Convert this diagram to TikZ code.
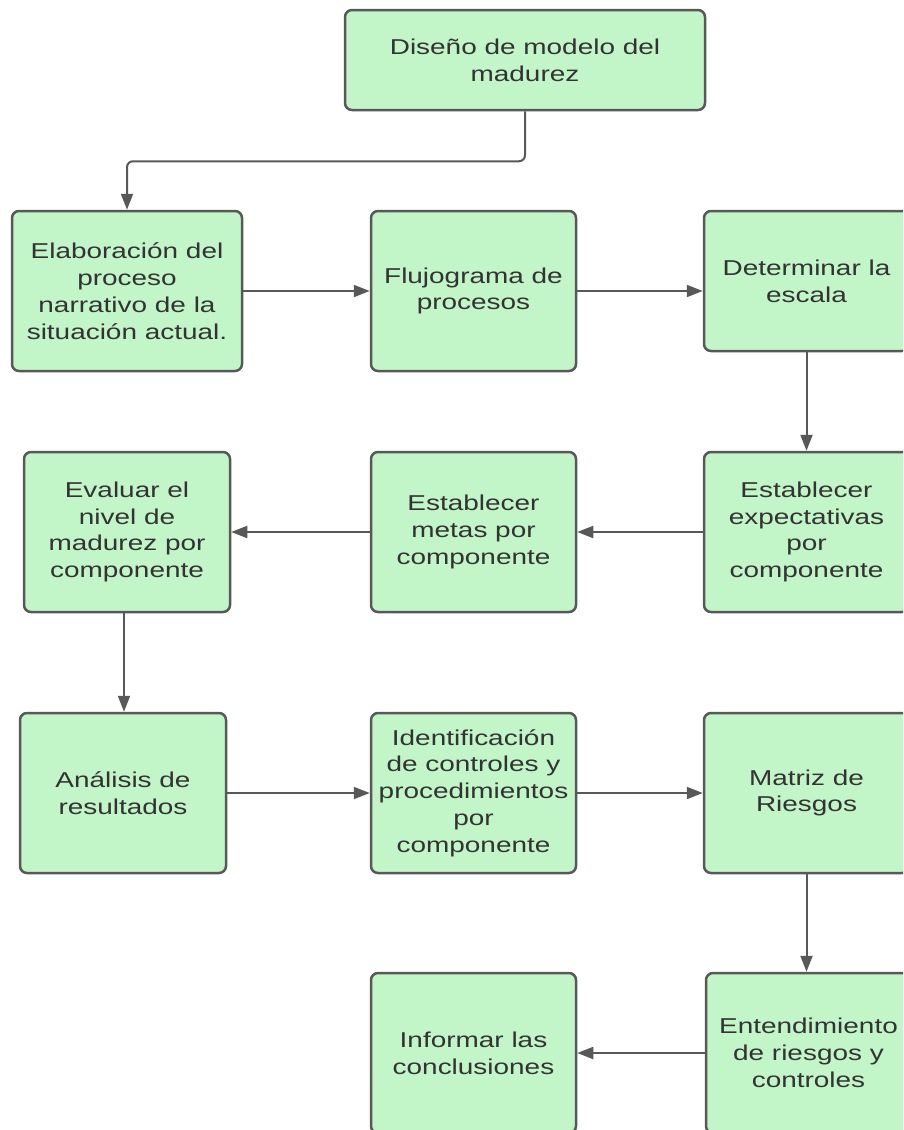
\documentclass[tikz,border=0pt]{standalone}
\usepackage{fontspec}
\usetikzlibrary{arrows.meta}
\newfontfamily\cajafont{Liberation Sans}[FakeStretch=1.3]
\definecolor{verde}{RGB}{194,245,199}
\definecolor{borde}{RGB}{88,88,88}
\definecolor{texto}{RGB}{51,51,51}
\newcommand{\flecha}{-{Triangle[length=16pt,width=12pt]}}

\begin{document}
\begin{tikzpicture}[x=1pt,y=-1pt,
  caja/.style={draw=borde, line width=2.5pt, fill=verde, rounded corners=7pt,
    minimum width=205pt, minimum height=160pt, align=center, inner sep=0pt,
    text=texto, font=\cajafont\fontsize{21.5}{26.8}\selectfont},
  conector/.style={draw=borde, line width=2pt}]
\fill[white] (0,0) rectangle (903,1130);
\clip (0,0) rectangle (903,1130);
%inicio
\node[caja, minimum width=360pt, minimum height=100pt] (diseno) at (525,60) {Diseño de modelo del\\madurez};
%primera fila
\node[caja, minimum width=230pt] (elab) at (127,291) {Elaboración del\\proceso\\narrativo de la\\situación actual.};
\node[caja] (flujo) at (473.5,291) {Flujograma de\\procesos};
\node[caja, minimum height=140pt] (escala) at (806.5,281) {Determinar la\\escala};
%segunda fila
\node[caja] (expect) at (806.5,532) {Establecer\\expectativas\\por\\componente};
\node[caja] (metas) at (473.5,532) {Establecer\\metas por\\componente};
\node[caja, minimum width=206pt] (evaluar) at (127,532) {Evaluar el\\nivel de\\madurez por\\componente};
%tercera fila
\node[caja, minimum width=206pt] (analisis) at (123,793) {Análisis de\\resultados};
\node[caja] (ident) at (473.5,793) {Identificación\\de controles y\\procedimientos\\por\\componente};
\node[caja] (matriz) at (806.5,793) {Matriz de\\Riesgos};
%cuarta fila
\node[caja] (entend) at (808.5,1053) {Entendimiento\\de riesgos y\\controles};
\node[caja] (informar) at (473.5,1053) {Informar las\\conclusiones};
%conectores
\draw[conector,\flecha,rounded corners=6pt] (diseno.south) -- ++(0,50) -| (elab.north);
\draw[conector,\flecha] (elab) -- (flujo);
\draw[conector,\flecha] (flujo) -- (escala.west |- flujo);
\draw[conector,\flecha] (escala) -- (expect);
\draw[conector,\flecha] (expect) -- (metas);
\draw[conector,\flecha] (metas) -- (evaluar);
\draw[conector,\flecha] (evaluar.south -| 124,0) -- (analisis.north -| 124,0);
\draw[conector,\flecha] (analisis) -- (ident);
\draw[conector,\flecha] (ident) -- (matriz);
\draw[conector,\flecha] (matriz.south) -- (matriz.south |- entend.north);
\draw[conector,\flecha] (entend) -- (informar);
\end{tikzpicture}
\end{document}
